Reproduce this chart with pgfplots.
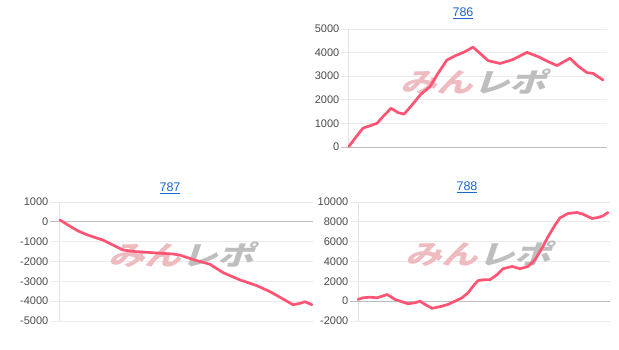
\documentclass[border=0pt]{standalone}
\usepackage{pgfplots}
\pgfplotsset{compat=1.18}
\usepackage{fontspec}
\setmainfont{Liberation Sans}
\newfontfamily\cjk{Noto Sans CJK JP}
\definecolor{linec}{HTML}{FF5473}
\definecolor{gridc}{HTML}{EBEBEB}
\definecolor{basec}{HTML}{BDBDBD}
\definecolor{vlinec}{HTML}{E3E3E3}
\definecolor{labc}{HTML}{4A4A4A}
\definecolor{titc}{HTML}{1A66CC}
\definecolor{wmpink}{HTML}{EDBBC0}
\definecolor{wmgrey}{HTML}{BEBEBE}
\pgfplotsset{
  mini/.style={
    anchor=south west, scale only axis,
    axis line style={draw=none},
    xtick=\empty,
    major tick length=0pt,
    tick style={draw=none},
    ymajorgrids,
    grid style={gridc, line width=0.8pt},
    scaled y ticks=false,
    yticklabel style={font=\fontsize{11}{12}\selectfont, text=labc, anchor=east, inner sep=0pt, xshift=-1.5pt},
    clip=false,
  },
  ser/.style={linec, line width=2.7pt, line join=round, line cap=round, no marks},
}
\tikzset{wmst/.style={inner sep=0pt, xscale=1.35, xslant=0.25}}
\newcommand{\wm}{\fontsize{27}{27}\selectfont\cjk\bfseries\textcolor{wmpink}{みん}\textcolor{wmgrey}{レポ}}
\begin{document}
\begin{tikzpicture}[x=1pt,y=1pt]
\path[use as bounding box] (0,0) rectangle (619,350);
% titles
\node[anchor=base, text=titc, font=\fontsize{12.5}{14}\selectfont, inner sep=0pt] at (463,333.3) {\underline{786}};
\node[anchor=base, text=titc, font=\fontsize{12.5}{14}\selectfont, inner sep=0pt] at (170,158.3) {\underline{787}};
\node[anchor=base, text=titc, font=\fontsize{12.5}{14}\selectfont, inner sep=0pt] at (467,159.3) {\underline{788}};

% 786
\begin{axis}[mini, at={(341pt,203pt)}, width=266pt, height=118pt,
  xmin=341, xmax=607, ymin=0, ymax=5000,
  ytick={0,1000,2000,3000,4000,5000}, yticklabels={0,1000,2000,3000,4000,5000}]
\draw[vlinec, line width=0.8pt] (axis cs:348,0) -- (axis cs:348,5000);
\draw[basec, line width=0.9pt] (axis cs:341,0) -- (axis cs:607,0);
\node[wmst] at (rel axis cs:0.510,0.555) {\wm};
\addplot[ser] coordinates {
(349,30) (355,370) (363,800) (370,900) (377,1000) (383,1290) (391,1640)
(398,1460) (404,1390) (412,1780) (420,2200) (430,2560) (438,3120) (447,3690)
(455,3860) (465,4040) (473,4230) (480,3970) (488,3660) (500,3540) (512,3690)
(527,4010) (538,3830) (548,3620) (557,3450) (570,3760) (578,3430) (587,3150)
(593,3120) (603,2840)
};
\end{axis}

% 787
\begin{axis}[mini, at={(50pt,29pt)}, width=263pt, height=119pt,
  xmin=50, xmax=313, ymin=-5000, ymax=1000,
  ytick={-5000,-4000,-3000,-2000,-1000,0,1000}, yticklabels={-5000,-4000,-3000,-2000,-1000,0,1000}]
\draw[vlinec, line width=0.8pt] (axis cs:59,-5000) -- (axis cs:59,1000);
\draw[basec, line width=0.9pt] (axis cs:50,0) -- (axis cs:313,0);
\node[wmst] at (rel axis cs:0.512,0.559) {\wm};
\addplot[ser] coordinates {
(60,90) (68,-160) (78,-460) (88,-670) (103,-920) (113,-1170) (123,-1420)
(135,-1500) (148,-1540) (162,-1590) (173,-1620) (180,-1680) (195,-1930)
(210,-2140) (223,-2560) (240,-2930) (257,-3220) (270,-3520) (282,-3860)
(293,-4180) (300,-4110) (305,-4030) (312,-4180)
};
\end{axis}

% 788
\begin{axis}[mini, at={(350pt,29pt)}, width=260pt, height=119pt,
  xmin=350, xmax=610, ymin=-2000, ymax=10000,
  ytick={-2000,0,2000,4000,6000,8000,10000}, yticklabels={-2000,0,2000,4000,6000,8000,10000}]
\draw[vlinec, line width=0.8pt] (axis cs:358,-2000) -- (axis cs:358,10000);
\draw[basec, line width=0.9pt] (axis cs:350,0) -- (axis cs:610,0);
\node[wmst] at (rel axis cs:0.507,0.563) {\wm};
\addplot[ser] coordinates {
(358,170) (363,340) (370,400) (377,340) (382,500) (387,670) (390,500)
(395,170) (402,-60) (408,-260) (415,-160) (420,0) (425,-330) (432,-720)
(440,-560) (448,-330) (455,0) (462,340) (468,840) (473,1500) (478,2070)
(484,2170) (490,2170) (497,2670) (503,3270) (512,3500) (520,3270) (528,3500)
(535,4170) (542,5340) (548,6500) (555,7670) (560,8400) (568,8840) (577,8940)
(583,8770) (592,8340) (598,8440) (603,8600) (608,8940)
};
\end{axis}
\end{tikzpicture}
\end{document}
